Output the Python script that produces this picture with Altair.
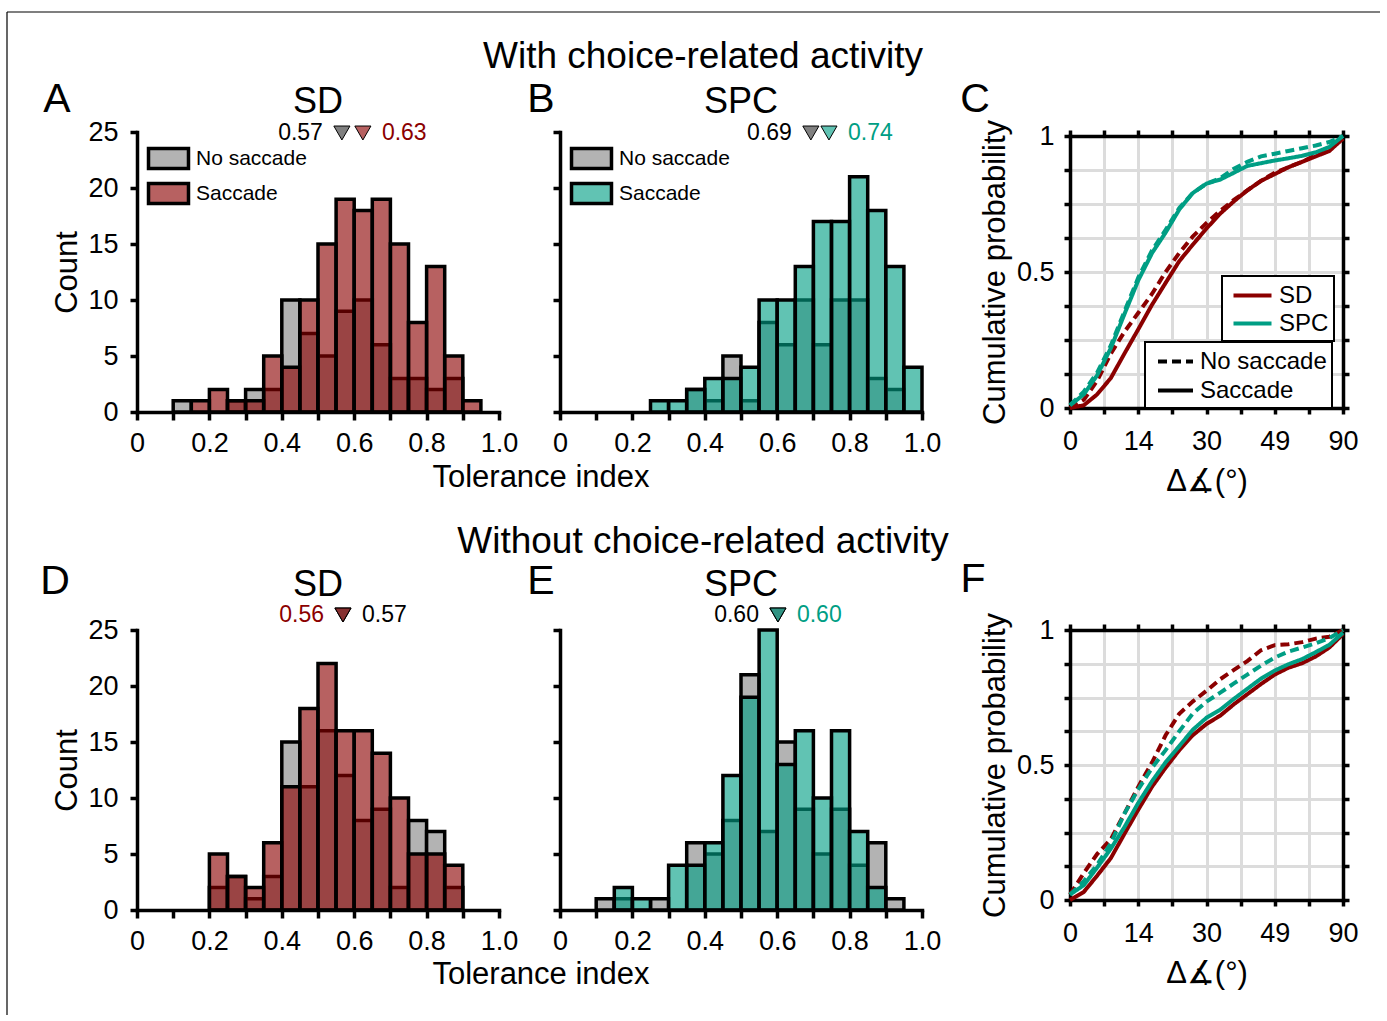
import altair as alt
import pandas as pd

FONT = "Liberation Sans"
RED = "#8B0000"
TEAL = "#009E84"
GRAY = "#B3B3B3"
TRI_GRAY = "#808080"
SAC_ALPHA = 0.62
RED_LIGHT = "#B76161"    # RED at SAC_ALPHA over white (legend swatch)
TEAL_LIGHT = "#61C3B3"   # TEAL at SAC_ALPHA over white (legend swatch)

series_names = ["No saccade", "Saccade"]
cell_names = ["SD", "SPC"]

# ---------------- histogram data (tolerance index, bins of 0.05) ----------------
bin_lo = [0.00, 0.05, 0.10, 0.15, 0.20, 0.25, 0.30, 0.35, 0.40, 0.45,
          0.50, 0.55, 0.60, 0.65, 0.70, 0.75, 0.80, 0.85, 0.90, 0.95]
bin_hi = [0.05, 0.10, 0.15, 0.20, 0.25, 0.30, 0.35, 0.40, 0.45, 0.50,
          0.55, 0.60, 0.65, 0.70, 0.75, 0.80, 0.85, 0.90, 0.95, 1.00]

A_nosacc = [0, 0, 1, 0, 0, 1, 2, 2, 10, 7, 5, 9, 10, 6, 3, 3, 2, 3, 0, 0]
A_sacc   = [0, 0, 0, 1, 2, 1, 1, 5, 4, 10, 15, 19, 18, 19, 15, 8, 13, 5, 1, 0]
B_nosacc = [0, 0, 0, 0, 0, 0, 0, 2, 1, 5, 1, 8, 6, 10, 6, 10, 10, 3, 2, 0]
B_sacc   = [0, 0, 0, 0, 0, 1, 1, 2, 3, 3, 4, 10, 10, 13, 17, 17, 21, 18, 13, 4]
D_nosacc = [0, 0, 0, 0, 2, 3, 1, 3, 15, 11, 16, 12, 8, 9, 2, 8, 7, 2, 0, 0]
D_sacc   = [0, 0, 0, 0, 5, 3, 2, 6, 11, 18, 22, 16, 16, 14, 10, 5, 5, 4, 0, 0]
E_nosacc = [0, 0, 1, 1, 0, 1, 0, 6, 5, 8, 21, 7, 15, 9, 5, 9, 4, 6, 1, 0]
E_sacc   = [0, 0, 0, 2, 1, 0, 4, 4, 6, 12, 19, 25, 13, 16, 10, 16, 7, 2, 0, 0]

# median markers (no saccade, saccade) and printed values (left text, right text)
A_median = [0.566, 0.624]; A_text = [("0.57", "No saccade"), ("0.63", "Saccade")]
B_median = [0.693, 0.743]; B_text = [("0.69", "No saccade"), ("0.74", "Saccade")]
D_median = [0.569, 0.569]; D_text = [("0.56", "Saccade"), ("0.57", "No saccade")]
E_median = [0.602, 0.602]; E_text = [("0.60", "No saccade"), ("0.60", "Saccade")]

hist_xticks = [0.0, 0.1, 0.2, 0.3, 0.4, 0.5, 0.6, 0.7, 0.8, 0.9, 1.0]
hist_xlabels = {0.0: "0", 0.2: "0.2", 0.4: "0.4", 0.6: "0.6", 0.8: "0.8", 1.0: "1.0"}
hist_yticks = [0, 5, 10, 15, 20, 25]

# ---------------- cumulative distributions (angle difference, degrees) ----------------
deg_grid = [0.0, 2.9, 5.7, 8.6, 11.5, 14.5, 17.5, 20.5, 23.6, 26.7, 30.0,
            33.4, 36.9, 40.5, 44.4, 48.6, 53.1, 58.2, 64.2, 71.8, 90.0]

C_SD_nosacc  = [0.0, 0.03, 0.10, 0.20, 0.28, 0.35, 0.42, 0.50, 0.57, 0.63, 0.68,
                0.725, 0.765, 0.80, 0.835, 0.865, 0.885, 0.905, 0.93, 0.955, 0.99]
C_SD_sacc    = [0.0, 0.01, 0.05, 0.11, 0.20, 0.29, 0.38, 0.46, 0.54, 0.60, 0.66,
                0.715, 0.76, 0.80, 0.835, 0.86, 0.885, 0.905, 0.925, 0.945, 0.99]
C_SPC_nosacc = [0.01, 0.06, 0.13, 0.23, 0.355, 0.48, 0.58, 0.655, 0.735, 0.79, 0.825,
                0.845, 0.88, 0.905, 0.925, 0.935, 0.945, 0.955, 0.965, 0.978, 1.0]
C_SPC_sacc   = [0.01, 0.05, 0.12, 0.22, 0.345, 0.47, 0.57, 0.645, 0.73, 0.79, 0.825,
                0.84, 0.865, 0.89, 0.90, 0.91, 0.918, 0.927, 0.94, 0.96, 1.0]

F_SD_nosacc  = [0.02, 0.10, 0.17, 0.225, 0.32, 0.42, 0.51, 0.61, 0.69, 0.735, 0.775,
                0.818, 0.852, 0.885, 0.925, 0.944, 0.947, 0.955, 0.968, 0.975, 1.0]
F_SD_sacc    = [0.0, 0.03, 0.09, 0.155, 0.245, 0.335, 0.42, 0.49, 0.555, 0.61, 0.652,
                0.683, 0.725, 0.762, 0.80, 0.835, 0.86, 0.877, 0.902, 0.935, 0.985]
F_SPC_nosacc = [0.02, 0.07, 0.13, 0.21, 0.32, 0.41, 0.49, 0.555, 0.625, 0.69, 0.735,
                0.768, 0.802, 0.835, 0.868, 0.898, 0.92, 0.935, 0.951, 0.97, 1.0]
F_SPC_sacc   = [0.02, 0.055, 0.12, 0.19, 0.27, 0.36, 0.44, 0.51, 0.57, 0.63, 0.675,
                0.705, 0.745, 0.782, 0.82, 0.85, 0.873, 0.892, 0.918, 0.945, 0.99]

cdf_ticks = [0.0, 0.125, 0.25, 0.375, 0.5, 0.625, 0.75, 0.875, 1.0]
cdf_xlabels = {0.0: "0", 0.25: "14", 0.5: "30", 0.75: "49", 1.0: "90"}
cdf_ylabels = {0.0: "0", 0.5: "0.5", 1.0: "1"}


def label_expr(mapping):
    parts = [f"abs(datum.value - {k}) < 1e-6 ? '{v}'" for k, v in mapping.items()]
    return " : ".join(parts) + " : ''"


def txt(text, x, y, size, color="black", align="center", angle=0):
    return alt.Chart(pd.DataFrame({"t": [text]})).mark_text(
        font=FONT, fontSize=size, color=color, align=align, baseline="middle", angle=angle
    ).encode(x=alt.value(x), y=alt.value(y), text="t:N")


HX = alt.Scale(domain=[0, 1], nice=False, zero=False)
HY = alt.Scale(domain=[0, 25], nice=False)


def hist_panel(nos, sac, color, light, name, letter, letter_x, letter_y, title_y,
               medians, texts, ann_y, show_y, legend, extra=()):
    rows = []
    for z, (s, counts) in enumerate(zip(series_names, [nos, sac])):
        for lo, hi, c in zip(bin_lo, bin_hi, counts):
            if c > 0:
                rows.append({"lo": lo, "hi": hi, "count": c, "base": 0, "series": s, "z": z})
    df = pd.DataFrame(rows)
    xaxis = alt.Axis(values=hist_xticks, labelExpr=label_expr(hist_xlabels), title=None,
                     grid=False, labelFlush=False, tickSize=8, labelPadding=10)
    if show_y:
        yaxis = alt.Axis(values=hist_yticks, title="Count", grid=False, tickSize=7,
                         labelPadding=12, titlePadding=4)
    else:
        yaxis = alt.Axis(values=hist_yticks, labels=False, title=None, grid=False, tickSize=7)
    bars = alt.Chart(df).mark_rect(stroke="black", strokeWidth=3.5).encode(
        x=alt.X("lo:Q", scale=HX, axis=xaxis),
        x2="hi:Q",
        y=alt.Y("count:Q", scale=HY, axis=yaxis),
        y2="base:Q",
        color=alt.Color("series:N", scale=alt.Scale(domain=series_names, range=[GRAY, color]), legend=None),
        fillOpacity=alt.FillOpacity("series:N", scale=alt.Scale(domain=series_names, range=[1.0, SAC_ALPHA]), legend=None),
        order=alt.Order("z:Q"),
    )
    layers = [bars]
    if legend:
        leg = alt.Legend(title=None, orient="none", legendX=14, legendY=9,
                         symbolType="M-1.29,-0.645H1.29V0.645H-1.29Z", symbolSize=961,
                         symbolStrokeColor="black", symbolStrokeWidth=3.5,
                         labelFontSize=21, labelFont=FONT, labelOffset=10,
                         rowPadding=0, padding=0)
        # zero-size rects hidden in the axis corner; they only carry the legend
        leg_layer = alt.Chart(pd.DataFrame({"series": series_names})).mark_rect(
            stroke="black", strokeWidth=3.5
        ).encode(
            x=alt.value(0), x2=alt.value(0), y=alt.value(280), y2=alt.value(280),
            fill=alt.Fill("series:N", scale=alt.Scale(domain=series_names, range=[GRAY, light]), legend=leg),
        )
        layers.append(leg_layer)
    tri_g = alt.Chart(pd.DataFrame({"pos": [medians[0]]})).mark_point(
        shape="triangle-down", filled=True, size=260, fill=TRI_GRAY, fillOpacity=1,
        stroke="black", strokeWidth=1, opacity=1
    ).encode(x=alt.X("pos:Q", scale=HX, axis=xaxis), y=alt.value(ann_y))
    tri_c = alt.Chart(pd.DataFrame({"pos": [medians[1]]})).mark_point(
        shape="triangle-down", filled=True, size=260, fill=color, fillOpacity=SAC_ALPHA,
        stroke="black", strokeWidth=1, opacity=1
    ).encode(x=alt.X("pos:Q", scale=HX, axis=xaxis), y=alt.value(ann_y))
    col_of = {"No saccade": "black", "Saccade": color}
    lpos, rpos = min(medians), max(medians)
    t_left = alt.Chart(pd.DataFrame({"pos": [lpos], "t": [texts[0][0]]})).mark_text(
        font=FONT, fontSize=23, align="right", baseline="middle", dx=-19, color=col_of[texts[0][1]]
    ).encode(x=alt.X("pos:Q", scale=HX, axis=xaxis), y=alt.value(ann_y), text="t:N")
    t_right = alt.Chart(pd.DataFrame({"pos": [rpos], "t": [texts[1][0]]})).mark_text(
        font=FONT, fontSize=23, align="left", baseline="middle", dx=19, color=col_of[texts[1][1]]
    ).encode(x=alt.X("pos:Q", scale=HX, axis=xaxis), y=alt.value(ann_y), text="t:N")
    layers += [tri_g, tri_c, t_left, t_right,
               txt(name, 181, title_y, 36),
               txt(letter, letter_x, letter_y, 41)] + list(extra)
    return alt.layer(*layers).resolve_scale(color="independent", fill="independent").properties(
        width=362, height=280)


def cdf_panel(curves, letter, lx, ly, height, legends):
    rows = []
    for (cell, cond), ps in curves.items():
        for d, p in zip(deg_grid, ps):
            rows.append({"deg": d, "p": p, "cell": cell, "cond": cond})
    df = pd.DataFrame(rows)
    base = alt.Chart(df).transform_calculate(u="sin(datum.deg * PI / 180)")
    xs = alt.Scale(domain=[0, 1], nice=False, zero=False)
    ys = alt.Scale(domain=[0, 1], nice=False, zero=False)
    xb = alt.Axis(orient="bottom", values=cdf_ticks, labelExpr=label_expr(cdf_xlabels),
                  title="Δ∡(°)", grid=True, gridColor="#DCDCDC", gridWidth=3,
                  tickSize=6, labelPadding=14, titlePadding=12, labelFlush=False)
    yl = alt.Axis(orient="left", values=cdf_ticks, labelExpr=label_expr(cdf_ylabels),
                  title="Cumulative probability", grid=True, gridColor="#DCDCDC", gridWidth=3,
                  tickSize=6, labelPadding=10, titlePadding=5, labelFlush=False)
    if legends:
        leg_c = alt.Legend(title=None, orient="none", legendX=152, legendY=140,
                           strokeColor="black", fillColor="white", padding=5, symbolOffset=11,
                           symbolType="M-1.52,0H1.52", symbolSize=625, symbolStrokeWidth=4,
                           labelFontSize=24, labelFont=FONT, labelOffset=12, rowPadding=1)
        leg_d = alt.Legend(title=None, orient="none", legendX=75, legendY=206,
                           strokeColor="black", fillColor="white", padding=5, symbolOffset=11,
                           symbolType="M-1.4,0H1.4", symbolSize=625, symbolStrokeWidth=4,
                           symbolStrokeColor="black",
                           labelFontSize=24, labelFont=FONT, labelOffset=10, rowPadding=2)
    else:
        leg_c = None
        leg_d = None
    lines = base.mark_line(strokeWidth=4).encode(
        x=alt.X("u:Q", scale=xs, axis=xb),
        y=alt.Y("p:Q", scale=ys, axis=yl),
        color=alt.Color("cell:N", scale=alt.Scale(domain=cell_names, range=[RED, TEAL]), legend=leg_c),
        strokeDash=alt.StrokeDash("cond:N", scale=alt.Scale(domain=series_names, range=[[9, 5], [1, 0]]), legend=leg_d),
    )
    frame = base.mark_point(opacity=0).encode(
        x=alt.X("u:Q", scale=xs, axis=alt.Axis(orient="top", values=cdf_ticks, labels=False,
                                                grid=False, title=None, tickSize=6)),
        y=alt.Y("p:Q", scale=ys, axis=alt.Axis(orient="right", values=cdf_ticks, labels=False,
                                                grid=False, title=None, tickSize=6)),
    )
    return alt.layer(lines, frame, txt(letter, lx, ly, 41)).resolve_axis(
        x="independent", y="independent").properties(width=273, height=height)


def spacer():
    return alt.Chart(pd.DataFrame({"k": [0]})).mark_point(opacity=0).encode(
        x=alt.value(0), y=alt.value(0)).properties(width=26, height=20)


# figure frame (top and left border lines)
frame_df = pd.DataFrame({"k": [0]})
frame_top = alt.Chart(frame_df).mark_rule(color="black", strokeWidth=1.2).encode(
    x=alt.value(-130), x2=alt.value(1243), y=alt.value(-120))
frame_left = alt.Chart(frame_df).mark_rule(color="black", strokeWidth=1.2).encode(
    x=alt.value(-130), y=alt.value(-120), y2=alt.value(883))

A = hist_panel(A_nosacc, A_sacc, RED, RED_LIGHT, "SD", "A", -80, -32, -30, A_median, A_text, 1, True, True,
               extra=[txt("Tolerance index", 404, 346, 31), frame_top, frame_left])
B = hist_panel(B_nosacc, B_sacc, TEAL, TEAL_LIGHT, "SPC", "B", -19, -32, -30, B_median, B_text, 1, False, True,
               extra=[txt("With choice-related activity", 143, -75, 37)])
D = hist_panel(D_nosacc, D_sacc, RED, RED_LIGHT, "SD", "D", -82, -48, -45, D_median, D_text, -15, True, False,
               extra=[txt("Tolerance index", 404, 345, 31)])
E = hist_panel(E_nosacc, E_sacc, TEAL, TEAL_LIGHT, "SPC", "E", -19, -48, -45, E_median, E_text, -15, False, False,
               extra=[txt("Without choice-related activity", 143, -88, 37)])

C = cdf_panel({("SD", "No saccade"): C_SD_nosacc, ("SD", "Saccade"): C_SD_sacc,
               ("SPC", "No saccade"): C_SPC_nosacc, ("SPC", "Saccade"): C_SPC_sacc},
              "C", -95, -36, 272, True)
F = cdf_panel({("SD", "No saccade"): F_SD_nosacc, ("SD", "Saccade"): F_SD_sacc,
               ("SPC", "No saccade"): F_SPC_nosacc, ("SPC", "Saccade"): F_SPC_sacc},
              "F", -97, -50, 270, False)

chart = alt.concat(A, B, spacer(), C, D, E, spacer(), F, columns=4,
                   spacing={"row": 218, "column": 61}, bounds="flush", center=True
).resolve_scale(
    color="independent", fill="independent", fillOpacity="independent", strokeDash="independent"
).resolve_legend(
    color="independent", fill="independent", fillOpacity="independent", strokeDash="independent"
).properties(
    padding={"left": 6, "top": 11, "right": 0, "bottom": 0}
).configure_view(stroke=None).configure_axis(
    labelFont=FONT, titleFont=FONT, labelFontSize=27, titleFontSize=31,
    titleFontWeight="normal", labelColor="black", titleColor="black",
    domainColor="black", tickColor="black", domainWidth=3.5, tickWidth=3.5,
    domainCap="square"
).configure_legend(strokeWidth=2, labelColor="black")

chart.save("out.html", embed_options={"renderer": "svg", "actions": False})
